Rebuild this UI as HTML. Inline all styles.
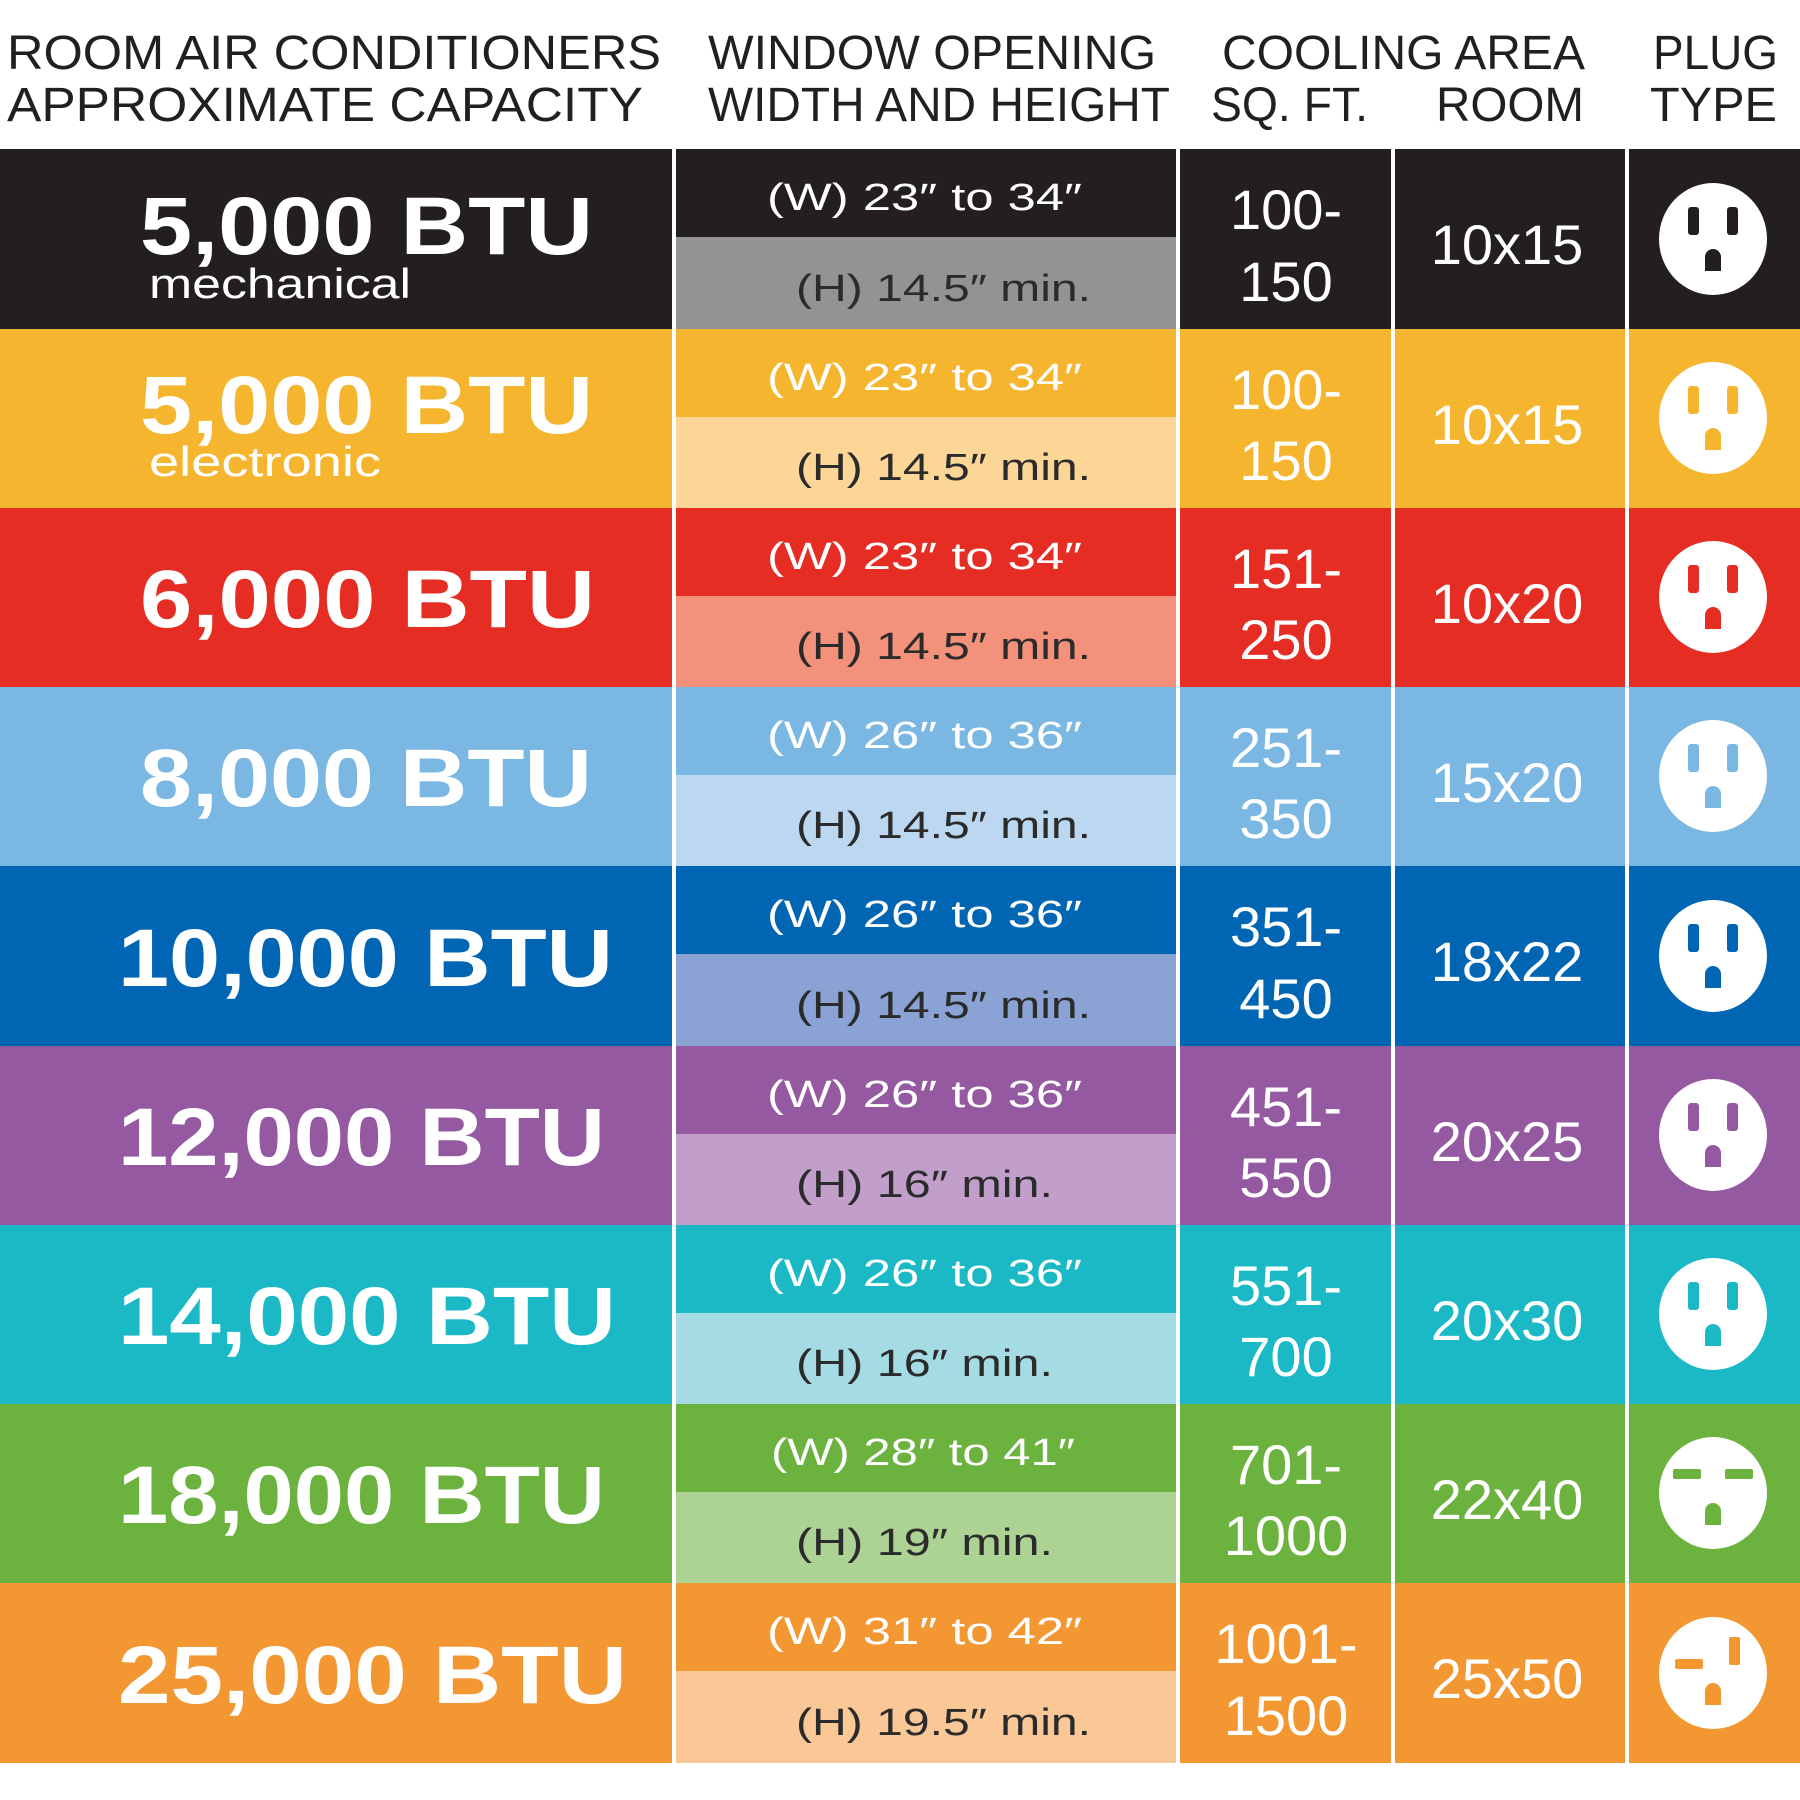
<!DOCTYPE html>
<html><head><meta charset="utf-8"><style>body{margin:0;background:#fff}svg{display:block}</style></head><body>
<svg width="1800" height="1800" viewBox="0 0 1800 1800" xmlns="http://www.w3.org/2000/svg" font-family="Liberation Sans, sans-serif">
<rect width="1800" height="1800" fill="#fff"/>
<g fill="#231f20" font-size="48">
<text x="7" y="69" textLength="654" lengthAdjust="spacingAndGlyphs">ROOM AIR CONDITIONERS</text>
<text x="7" y="121" textLength="636" lengthAdjust="spacingAndGlyphs">APPROXIMATE CAPACITY</text>
<text x="708" y="69" textLength="448" lengthAdjust="spacingAndGlyphs">WINDOW OPENING</text>
<text x="708" y="121" textLength="462" lengthAdjust="spacingAndGlyphs">WIDTH AND HEIGHT</text>
<text x="1222" y="69" textLength="363" lengthAdjust="spacingAndGlyphs">COOLING AREA</text>
<text x="1211" y="121" textLength="157" lengthAdjust="spacingAndGlyphs">SQ. FT.</text>
<text x="1436" y="121" textLength="148" lengthAdjust="spacingAndGlyphs">ROOM</text>
<text x="1653" y="69" textLength="125" lengthAdjust="spacingAndGlyphs">PLUG</text>
<text x="1650" y="121" textLength="127" lengthAdjust="spacingAndGlyphs">TYPE</text>
</g>
<defs>
<g id="std"><rect x="-25" y="-32" width="11" height="28" rx="3"/><rect x="14" y="-32" width="11" height="28" rx="3"/><path d="M-8 32 V18 a8 8 0 0 1 16 0 V32 Z"/></g>
<g id="hor"><rect x="-40" y="-24" width="28" height="10" rx="2"/><rect x="12" y="-24" width="28" height="10" rx="2"/><path d="M-8 32 V18 a8 8 0 0 1 16 0 V32 Z"/></g>
<g id="mix"><rect x="-38" y="-14" width="28" height="10" rx="2"/><rect x="16" y="-36" width="11" height="28" rx="2"/><path d="M-8 32 V18 a8 8 0 0 1 16 0 V32 Z"/></g>
</defs>
<!-- rows -->
<g id="rows">
<!-- row template: T, main, light -->
<!-- 1 -->
<rect x="0" y="149" width="672" height="180" fill="#231f20"/><rect x="676" y="149" width="500" height="88" fill="#231f20"/><rect x="676" y="237" width="500" height="92" fill="#939393"/><rect x="1180" y="149" width="211" height="180" fill="#231f20"/><rect x="1395" y="149" width="230" height="180" fill="#231f20"/><rect x="1629" y="149" width="171" height="180" fill="#231f20"/>
<!-- 2 -->
<rect x="0" y="329" width="672" height="179" fill="#f5b52e"/><rect x="676" y="329" width="500" height="88" fill="#f5b52e"/><rect x="676" y="417" width="500" height="91" fill="#fcd696"/><rect x="1180" y="329" width="211" height="179" fill="#f5b52e"/><rect x="1395" y="329" width="230" height="179" fill="#f5b52e"/><rect x="1629" y="329" width="171" height="179" fill="#f5b52e"/>
<!-- 3 -->
<rect x="0" y="508" width="672" height="179" fill="#e52d23"/><rect x="676" y="508" width="500" height="88" fill="#e52d23"/><rect x="676" y="596" width="500" height="91" fill="#f4917a"/><rect x="1180" y="508" width="211" height="179" fill="#e52d23"/><rect x="1395" y="508" width="230" height="179" fill="#e52d23"/><rect x="1629" y="508" width="171" height="179" fill="#e52d23"/>
<!-- 4 -->
<rect x="0" y="687" width="672" height="179" fill="#7bb7e3"/><rect x="676" y="687" width="500" height="88" fill="#7bb7e3"/><rect x="676" y="775" width="500" height="91" fill="#bcd8f1"/><rect x="1180" y="687" width="211" height="179" fill="#7bb7e3"/><rect x="1395" y="687" width="230" height="179" fill="#7bb7e3"/><rect x="1629" y="687" width="171" height="179" fill="#7bb7e3"/>
<!-- 5 -->
<rect x="0" y="866" width="672" height="180" fill="#0066b3"/><rect x="676" y="866" width="500" height="88" fill="#0066b3"/><rect x="676" y="954" width="500" height="92" fill="#8aa3d4"/><rect x="1180" y="866" width="211" height="180" fill="#0066b3"/><rect x="1395" y="866" width="230" height="180" fill="#0066b3"/><rect x="1629" y="866" width="171" height="180" fill="#0066b3"/>
<!-- 6 -->
<rect x="0" y="1046" width="672" height="179" fill="#9459a1"/><rect x="676" y="1046" width="500" height="88" fill="#9459a1"/><rect x="676" y="1134" width="500" height="91" fill="#c29fcb"/><rect x="1180" y="1046" width="211" height="179" fill="#9459a1"/><rect x="1395" y="1046" width="230" height="179" fill="#9459a1"/><rect x="1629" y="1046" width="171" height="179" fill="#9459a1"/>
<!-- 7 -->
<rect x="0" y="1225" width="672" height="179" fill="#1ab9c5"/><rect x="676" y="1225" width="500" height="88" fill="#1ab9c5"/><rect x="676" y="1313" width="500" height="91" fill="#a5dbe3"/><rect x="1180" y="1225" width="211" height="179" fill="#1ab9c5"/><rect x="1395" y="1225" width="230" height="179" fill="#1ab9c5"/><rect x="1629" y="1225" width="171" height="179" fill="#1ab9c5"/>
<!-- 8 -->
<rect x="0" y="1404" width="672" height="179" fill="#6cb23e"/><rect x="676" y="1404" width="500" height="88" fill="#6cb23e"/><rect x="676" y="1492" width="500" height="91" fill="#acd394"/><rect x="1180" y="1404" width="211" height="179" fill="#6cb23e"/><rect x="1395" y="1404" width="230" height="179" fill="#6cb23e"/><rect x="1629" y="1404" width="171" height="179" fill="#6cb23e"/>
<!-- 9 -->
<rect x="0" y="1583" width="672" height="180" fill="#f39733"/><rect x="676" y="1583" width="500" height="88" fill="#f39733"/><rect x="676" y="1671" width="500" height="92" fill="#fac896"/><rect x="1180" y="1583" width="211" height="180" fill="#f39733"/><rect x="1395" y="1583" width="230" height="180" fill="#f39733"/><rect x="1629" y="1583" width="171" height="180" fill="#f39733"/>
</g>
<!-- BTU -->
<g fill="#fff" font-weight="bold" font-size="82">
<text x="140" y="254" textLength="453" lengthAdjust="spacingAndGlyphs">5,000 BTU</text>
<text x="140" y="433" textLength="453" lengthAdjust="spacingAndGlyphs">5,000 BTU</text>
<text x="140" y="627" textLength="455" lengthAdjust="spacingAndGlyphs">6,000 BTU</text>
<text x="140" y="806" textLength="452" lengthAdjust="spacingAndGlyphs">8,000 BTU</text>
<text x="118" y="986" textLength="495" lengthAdjust="spacingAndGlyphs">10,000 BTU</text>
<text x="118" y="1165" textLength="487" lengthAdjust="spacingAndGlyphs">12,000 BTU</text>
<text x="118" y="1344" textLength="498" lengthAdjust="spacingAndGlyphs">14,000 BTU</text>
<text x="118" y="1523" textLength="487" lengthAdjust="spacingAndGlyphs">18,000 BTU</text>
<text x="118" y="1703" textLength="509" lengthAdjust="spacingAndGlyphs">25,000 BTU</text>
</g>
<g fill="#fff" font-size="42">
<text x="149" y="298" textLength="262" lengthAdjust="spacingAndGlyphs">mechanical</text>
<text x="149" y="476" textLength="232" lengthAdjust="spacingAndGlyphs">electronic</text>
</g>
<!-- W lines -->
<g fill="#fff" font-size="38">
<text x="767" y="210" textLength="315" lengthAdjust="spacingAndGlyphs">(W) 23″ to 34″</text>
<text x="767" y="390" textLength="315" lengthAdjust="spacingAndGlyphs">(W) 23″ to 34″</text>
<text x="767" y="569" textLength="315" lengthAdjust="spacingAndGlyphs">(W) 23″ to 34″</text>
<text x="767" y="748" textLength="315" lengthAdjust="spacingAndGlyphs">(W) 26″ to 36″</text>
<text x="767" y="927" textLength="315" lengthAdjust="spacingAndGlyphs">(W) 26″ to 36″</text>
<text x="767" y="1107" textLength="315" lengthAdjust="spacingAndGlyphs">(W) 26″ to 36″</text>
<text x="767" y="1286" textLength="315" lengthAdjust="spacingAndGlyphs">(W) 26″ to 36″</text>
<text x="771" y="1465" textLength="304" lengthAdjust="spacingAndGlyphs">(W) 28″ to 41″</text>
<text x="767" y="1644" textLength="315" lengthAdjust="spacingAndGlyphs">(W) 31″ to 42″</text>
</g>
<!-- H lines -->
<g fill="#2b2b2b" font-size="38">
<text x="796" y="301" textLength="295" lengthAdjust="spacingAndGlyphs">(H) 14.5″ min.</text>
<text x="796" y="480" textLength="295" lengthAdjust="spacingAndGlyphs">(H) 14.5″ min.</text>
<text x="796" y="659" textLength="295" lengthAdjust="spacingAndGlyphs">(H) 14.5″ min.</text>
<text x="796" y="838" textLength="295" lengthAdjust="spacingAndGlyphs">(H) 14.5″ min.</text>
<text x="796" y="1018" textLength="295" lengthAdjust="spacingAndGlyphs">(H) 14.5″ min.</text>
<text x="796" y="1197" textLength="257" lengthAdjust="spacingAndGlyphs">(H) 16″ min.</text>
<text x="796" y="1376" textLength="257" lengthAdjust="spacingAndGlyphs">(H) 16″ min.</text>
<text x="796" y="1555" textLength="257" lengthAdjust="spacingAndGlyphs">(H) 19″ min.</text>
<text x="796" y="1735" textLength="295" lengthAdjust="spacingAndGlyphs">(H) 19.5″ min.</text>
</g>
<!-- sq ft -->
<g fill="#fff" font-size="56" text-anchor="middle">
<text x="1286" y="229">100-</text><text x="1286" y="301">150</text>
<text x="1286" y="409">100-</text><text x="1286" y="480">150</text>
<text x="1286" y="588">151-</text><text x="1286" y="659">250</text>
<text x="1286" y="767">251-</text><text x="1286" y="838">350</text>
<text x="1286" y="946">351-</text><text x="1286" y="1018">450</text>
<text x="1286" y="1126">451-</text><text x="1286" y="1197">550</text>
<text x="1286" y="1305">551-</text><text x="1286" y="1376">700</text>
<text x="1286" y="1484">701-</text><text x="1286" y="1555">1000</text>
<text x="1286" y="1663">1001-</text><text x="1286" y="1735">1500</text>
</g>
<g fill="#fff" font-size="56" text-anchor="middle">
<text x="1507" y="264">10x15</text>
<text x="1507" y="444">10x15</text>
<text x="1507" y="623">10x20</text>
<text x="1507" y="802">15x20</text>
<text x="1507" y="981">18x22</text>
<text x="1507" y="1161">20x25</text>
<text x="1507" y="1340">20x30</text>
<text x="1507" y="1519">22x40</text>
<text x="1507" y="1698">25x50</text>
</g>
<!-- plugs -->
<g fill="#fff">
<ellipse cx="1713" cy="239" rx="54" ry="56"/><ellipse cx="1713" cy="418" rx="54" ry="56"/><ellipse cx="1713" cy="597" rx="54" ry="56"/><ellipse cx="1713" cy="776" rx="54" ry="56"/><ellipse cx="1713" cy="956" rx="54" ry="56"/><ellipse cx="1713" cy="1135" rx="54" ry="56"/><ellipse cx="1713" cy="1314" rx="54" ry="56"/><ellipse cx="1713" cy="1493" rx="54" ry="56"/><ellipse cx="1713" cy="1673" rx="54" ry="56"/>
</g>
<use href="#std" x="1713" y="239" fill="#231f20"/>
<use href="#std" x="1713" y="418" fill="#f5b52e"/>
<use href="#std" x="1713" y="597" fill="#e52d23"/>
<use href="#std" x="1713" y="776" fill="#7bb7e3"/>
<use href="#std" x="1713" y="956" fill="#0066b3"/>
<use href="#std" x="1713" y="1135" fill="#9459a1"/>
<use href="#std" x="1713" y="1314" fill="#1ab9c5"/>
<use href="#hor" x="1713" y="1493" fill="#6cb23e"/>
<use href="#mix" x="1713" y="1673" fill="#f39733"/>
</svg>
</body></html>
